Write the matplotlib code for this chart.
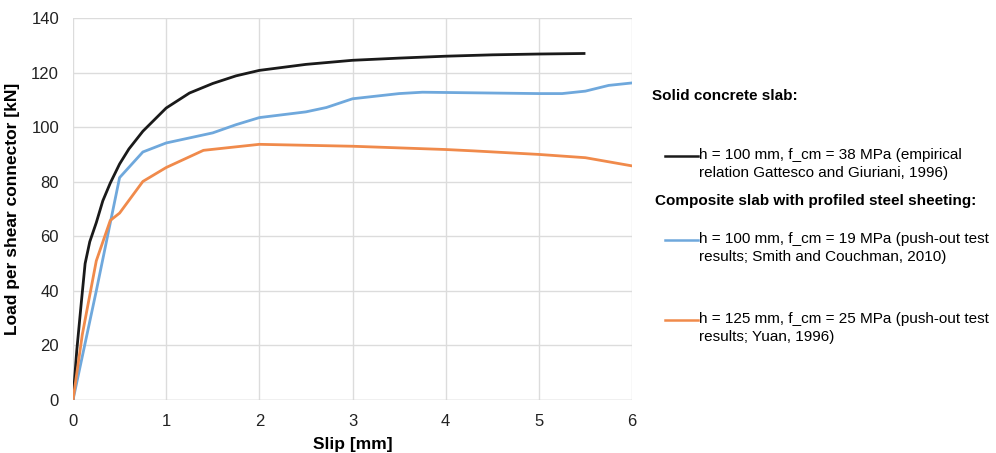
import matplotlib
matplotlib.use("Agg")
import matplotlib.pyplot as plt
from matplotlib.lines import Line2D

plt.rcParams['font.family'] = ['Liberation Sans', 'DejaVu Sans']

# Solid concrete slab (empirical relation)
black_x = [0, 0.04, 0.09, 0.13, 0.18, 0.25, 0.32, 0.4, 0.5, 0.6, 0.75, 1.0, 1.25, 1.5, 1.75, 2.0, 2.5, 3.0, 3.5, 4.0, 4.5, 5.0, 5.5]
black_y = [0, 18, 36, 50, 58, 65, 73, 79.5, 86.5, 92, 98.5, 107, 112.5, 116, 118.8, 120.8, 123, 124.5, 125.3, 126, 126.5, 126.8, 127]

# Composite slab, Smith and Couchman 2010
blue_x = [0, 0.25, 0.5, 0.75, 1.0, 1.5, 1.75, 2.0, 2.5, 2.72, 3.0, 3.5, 3.75, 4.0, 5.0, 5.25, 5.5, 5.75, 6.0]
blue_y = [0, 40, 81.5, 90.9, 94.2, 97.9, 100.9, 103.5, 105.6, 107.2, 110.4, 112.3, 112.8, 112.7, 112.3, 112.3, 113.2, 115.3, 116.2]

# Composite slab, Yuan 1996
orange_x = [0, 0.1, 0.25, 0.4, 0.5, 0.75, 1.0, 1.4, 2.0, 3.0, 4.0, 4.3, 5.0, 5.5, 6.0]
orange_y = [0, 24, 51, 65.8, 68.5, 80.1, 85.2, 91.5, 93.7, 93.0, 91.8, 91.3, 90.0, 88.8, 85.8]

x_ticks = [0, 1, 2, 3, 4, 5, 6]
y_ticks = [0, 20, 40, 60, 80, 100, 120, 140]

c_black = '#1a1a1a'
c_blue = '#6fa8dc'
c_orange = '#f08a4b'

fig = plt.figure(figsize=(9.96, 4.53), dpi=100)
ax = fig.add_axes([73/996, 1-400/453, (632-73)/996, (400-18)/453])

ax.plot(black_x, black_y, color=c_black, lw=2.0, solid_capstyle='butt', zorder=3)
ax.plot(blue_x, blue_y, color=c_blue, lw=2.0, zorder=3)
ax.plot(orange_x, orange_y, color=c_orange, lw=2.0, zorder=3)

ax.set_xlim(0, 6)
ax.set_ylim(0, 140)
ax.set_xticks(x_ticks)
ax.set_yticks(y_ticks)
ax.grid(True, color='#dcdcdc', lw=1.0)
ax.set_axisbelow(True)
for s in ax.spines.values():
    s.set_visible(False)
ax.axhline(0, color='#d0d0d0', lw=1.0, zorder=1)
ax.tick_params(length=0, labelsize=12, colors='#222222', pad=10)
ax.tick_params(axis='x', pad=10)
ax.set_xlabel('Slip [mm]', fontsize=12.5, fontweight='bold', labelpad=6)
ax.set_ylabel('Load per shear connector [kN]', fontsize=12.5, fontweight='bold', labelpad=8)

# Legend-like annotation
fs = 11
def px(x, y):
    return x/996, 1 - y/453

fig.text(*px(652, 96), 'Solid concrete slab:', fontsize=fs, fontweight='bold', va='center', ha='left')
fig.text(*px(655, 201), 'Composite slab with profiled steel sheeting:', fontsize=fs, fontweight='bold', va='center', ha='left')

entries = [
    (c_black, 156, 'h = 100 mm, f_cm = 38 MPa (empirical\nrelation Gattesco and Giuriani, 1996)'),
    (c_blue, 240, 'h = 100 mm, f_cm = 19 MPa (push-out test\nresults; Smith and Couchman, 2010)'),
    (c_orange, 320, 'h = 125 mm, f_cm = 25 MPa (push-out test\nresults; Yuan, 1996)'),
]
for col, yy, txt in entries:
    x0, y0 = px(665, yy)
    x1, _ = px(698, yy)
    fig.add_artist(Line2D([x0, x1], [y0, y0], color=col, lw=1.8, transform=fig.transFigure))
    fig.text(*px(699, yy - 8), txt, fontsize=fs, va='top', ha='left', linespacing=1.4)

fig.savefig('out.png', dpi=100)
